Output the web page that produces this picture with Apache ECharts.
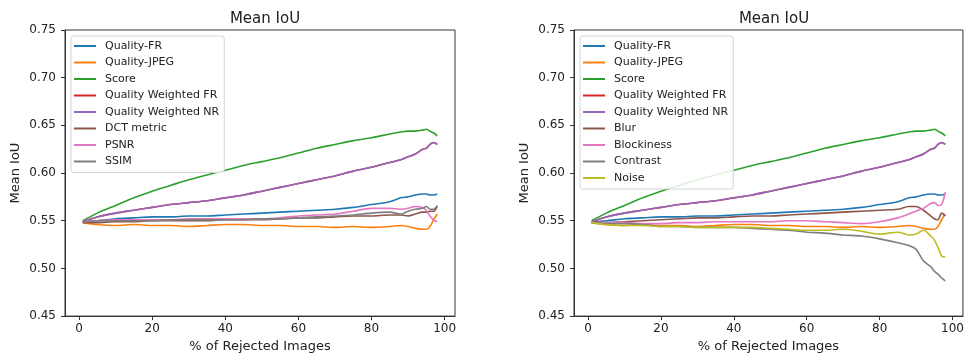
<!DOCTYPE html>
<html>
<head>
<meta charset="utf-8">
<title>Mean IoU</title>
<script src="https://cdn.jsdelivr.net/npm/echarts@6/dist/echarts.min.js"></script>
<style>
    html, body { margin: 0; padding: 0; background: #fff; }
    #chart { width: 967px; height: 358px; }
</style>
</head>
<body>
<div id="chart"></div>
<script>
'use strict';
// x: % of rejected images
var rejected = [1, 5, 10, 15, 20, 25, 30, 35, 40, 45, 50, 55, 60, 65, 70, 75, 80, 85, 88, 90, 92, 94, 95, 96, 97, 98];
var xTicks = [0, 20, 40, 60, 80, 100];
var yTicks = [0.45, 0.50, 0.55, 0.60, 0.65, 0.70, 0.75];

// shared by both panels
var qualityFR = [0.549, 0.550, 0.552, 0.553, 0.554, 0.554, 0.555, 0.555, 0.556, 0.557, 0.558, 0.559, 0.560, 0.561, 0.562, 0.564, 0.567, 0.570, 0.574, 0.575, 0.577, 0.578, 0.578, 0.577, 0.577, 0.578];
var qualityJPEG = [0.548, 0.546, 0.545, 0.546, 0.545, 0.545, 0.544, 0.545, 0.546, 0.546, 0.545, 0.545, 0.544, 0.544, 0.543, 0.544, 0.543, 0.544, 0.545, 0.544, 0.542, 0.541, 0.541, 0.544, 0.551, 0.557];
var score = [0.550, 0.558, 0.566, 0.574, 0.581, 0.587, 0.593, 0.598, 0.603, 0.608, 0.612, 0.616, 0.621, 0.626, 0.630, 0.634, 0.637, 0.641, 0.643, 0.644, 0.644, 0.645, 0.646, 0.644, 0.642, 0.639];
// weighted FR sits under the NR curve in the picture
var weightedFR = [0.549, 0.554, 0.558, 0.561, 0.564, 0.567, 0.569, 0.571, 0.574, 0.577, 0.581, 0.585, 0.589, 0.593, 0.597, 0.602, 0.606, 0.611, 0.614, 0.617, 0.620, 0.625, 0.626, 0.630, 0.632, 0.630];
var weightedNR = [0.549, 0.554, 0.558, 0.561, 0.564, 0.567, 0.569, 0.571, 0.574, 0.577, 0.581, 0.585, 0.589, 0.593, 0.597, 0.602, 0.606, 0.611, 0.614, 0.617, 0.620, 0.625, 0.626, 0.630, 0.632, 0.630];

// left panel only
var dctMetric = [0.548, 0.548, 0.549, 0.549, 0.550, 0.550, 0.550, 0.550, 0.551, 0.551, 0.551, 0.552, 0.553, 0.553, 0.554, 0.555, 0.555, 0.556, 0.556, 0.555, 0.557, 0.559, 0.559, 0.560, 0.560, 0.565];
var psnr = [0.549, 0.550, 0.551, 0.551, 0.551, 0.551, 0.552, 0.552, 0.552, 0.552, 0.552, 0.553, 0.555, 0.556, 0.557, 0.560, 0.563, 0.563, 0.562, 0.563, 0.565, 0.564, 0.561, 0.555, 0.551, 0.549];
var ssim = [0.549, 0.550, 0.550, 0.550, 0.550, 0.551, 0.551, 0.551, 0.551, 0.551, 0.552, 0.552, 0.553, 0.554, 0.555, 0.556, 0.558, 0.559, 0.557, 0.560, 0.562, 0.563, 0.565, 0.562, 0.562, 0.566];

// right panel only
var blur = [0.548, 0.548, 0.549, 0.550, 0.551, 0.552, 0.553, 0.553, 0.554, 0.555, 0.555, 0.556, 0.557, 0.558, 0.559, 0.560, 0.561, 0.562, 0.565, 0.565, 0.561, 0.555, 0.552, 0.551, 0.558, 0.555];
var blockiness = [0.548, 0.548, 0.548, 0.547, 0.547, 0.548, 0.548, 0.549, 0.549, 0.549, 0.549, 0.550, 0.550, 0.549, 0.548, 0.547, 0.549, 0.553, 0.557, 0.560, 0.563, 0.568, 0.569, 0.566, 0.567, 0.580];
var contrast = [0.548, 0.547, 0.547, 0.546, 0.544, 0.544, 0.543, 0.543, 0.543, 0.542, 0.541, 0.540, 0.538, 0.537, 0.535, 0.534, 0.531, 0.527, 0.524, 0.520, 0.508, 0.502, 0.497, 0.494, 0.490, 0.487];
var noise = [0.548, 0.546, 0.545, 0.545, 0.544, 0.544, 0.543, 0.543, 0.543, 0.543, 0.542, 0.541, 0.540, 0.540, 0.541, 0.539, 0.536, 0.538, 0.535, 0.536, 0.540, 0.534, 0.530, 0.522, 0.513, 0.512];

var FONT = 'DejaVu Sans';

// matplotlib tab10
var colors = {
    'Quality-FR': '#1f77b4',
    'Quality-JPEG': '#ff7f0e',
    'Score': '#2ca02c',
    'Quality Weighted FR': '#d62728',
    'Quality Weighted NR': '#9467bd',
    'DCT metric': '#8c564b',
    'Blur': '#8c564b',
    'PSNR': '#e377c2',
    'Blockiness': '#e377c2',
    'SSIM': '#7f7f7f',
    'Contrast': '#7f7f7f',
    'Noise': '#bcbd22'
};

var leftSet = [
    ['Quality-FR', qualityFR], ['Quality-JPEG', qualityJPEG], ['Score', score],
    ['Quality Weighted FR', weightedFR], ['Quality Weighted NR', weightedNR],
    ['DCT metric', dctMetric], ['PSNR', psnr], ['SSIM', ssim]
];
var rightSet = [
    ['Quality-FR', qualityFR], ['Quality-JPEG', qualityJPEG], ['Score', score],
    ['Quality Weighted FR', weightedFR], ['Quality Weighted NR', weightedNR],
    ['Blur', blur], ['Blockiness', blockiness], ['Contrast', contrast], ['Noise', noise]
];

function makeSeries(item, idx) {
    var name = item[0], vals = item[1];
    var pts = [];
    for (var i = 0; i < rejected.length; i++) {
        pts.push([rejected[i], vals[i]]);
    }
    return {
        name: name,
        type: 'line',
        xAxisIndex: idx,
        yAxisIndex: idx,
        data: pts,
        symbol: 'none',
        smooth: 0.3,
        silent: true,
        color: colors[name],
        lineStyle: { width: 1.6, color: colors[name] }
    };
}

function makeX(idx) {
    return {
        type: 'value',
        gridIndex: idx,
        min: -3.85,
        max: 102.85,
        name: '% of Rejected Images',
        nameLocation: 'middle',
        nameGap: 22,
        nameTextStyle: { fontFamily: FONT, fontSize: 13, color: '#222' },
        axisLine: { show: true, onZero: false, lineStyle: { color: '#333' } },
        axisTick: { show: true, length: 4, customValues: xTicks, lineStyle: { color: '#333' } },
        axisLabel: { customValues: xTicks, margin: 7, fontFamily: FONT, fontSize: 12, color: '#222' },
        splitLine: { show: false }
    };
}

function makeY(idx) {
    return {
        type: 'value',
        gridIndex: idx,
        min: 0.45,
        max: 0.75,
        interval: 0.05,
        name: 'Mean IoU',
        nameLocation: 'middle',
        nameGap: 43,
        nameTextStyle: { fontFamily: FONT, fontSize: 13, color: '#222' },
        axisLine: { show: true, onZero: false, lineStyle: { color: '#333' } },
        axisTick: { show: true, length: 4, customValues: yTicks, lineStyle: { color: '#333' } },
        axisLabel: {
            customValues: yTicks, margin: 9, fontFamily: FONT, fontSize: 12, color: '#222',
            formatter: function (v) { return v.toFixed(2); }
        },
        splitLine: { show: false }
    };
}

// legend entries drawn as plain short lines (no markers)
function makeLegend(set, left) {
    return {
        left: left,
        top: 36,
        orient: 'vertical',
        selectedMode: false,
        data: set.map(function (s) { return { name: s[0], icon: 'rect' }; }),
        itemWidth: 22,
        itemHeight: 2,
        itemGap: 4.5,
        padding: [4, 5, 5, 3],
        backgroundColor: 'rgba(255,255,255,0.85)',
        borderColor: '#d6d6d6',
        borderWidth: 1,
        borderRadius: 3,
        textStyle: { fontFamily: FONT, fontSize: 11, color: '#222', lineHeight: 12, padding: [0, 0, 0, 4] }
    };
}

var chart = echarts.init(document.getElementById('chart'));
var series = leftSet.map(function (s) { return makeSeries(s, 0); })
    .concat(rightSet.map(function (s) { return makeSeries(s, 1); }));

chart.setOption({
    animation: false,
    title: [
        { text: 'Mean IoU', left: 260, top: 7, textAlign: 'center',
          textStyle: { fontFamily: FONT, fontSize: 15, fontWeight: 'normal', color: '#222' } },
        { text: 'Mean IoU', left: 769, top: 7, textAlign: 'center',
          textStyle: { fontFamily: FONT, fontSize: 15, fontWeight: 'normal', color: '#222' } }
    ],
    grid: [
        { left: 65, top: 30, width: 390, height: 289, show: true, borderColor: '#333', borderWidth: 1, backgroundColor: 'transparent' },
        { left: 574, top: 30, width: 390, height: 289, show: true, borderColor: '#333', borderWidth: 1, backgroundColor: 'transparent' }
    ],
    xAxis: [makeX(0), makeX(1)],
    yAxis: [makeY(0), makeY(1)],
    legend: [makeLegend(leftSet, 71), makeLegend(rightSet, 580)],
    series: series
});
</script>
</body>
</html>
